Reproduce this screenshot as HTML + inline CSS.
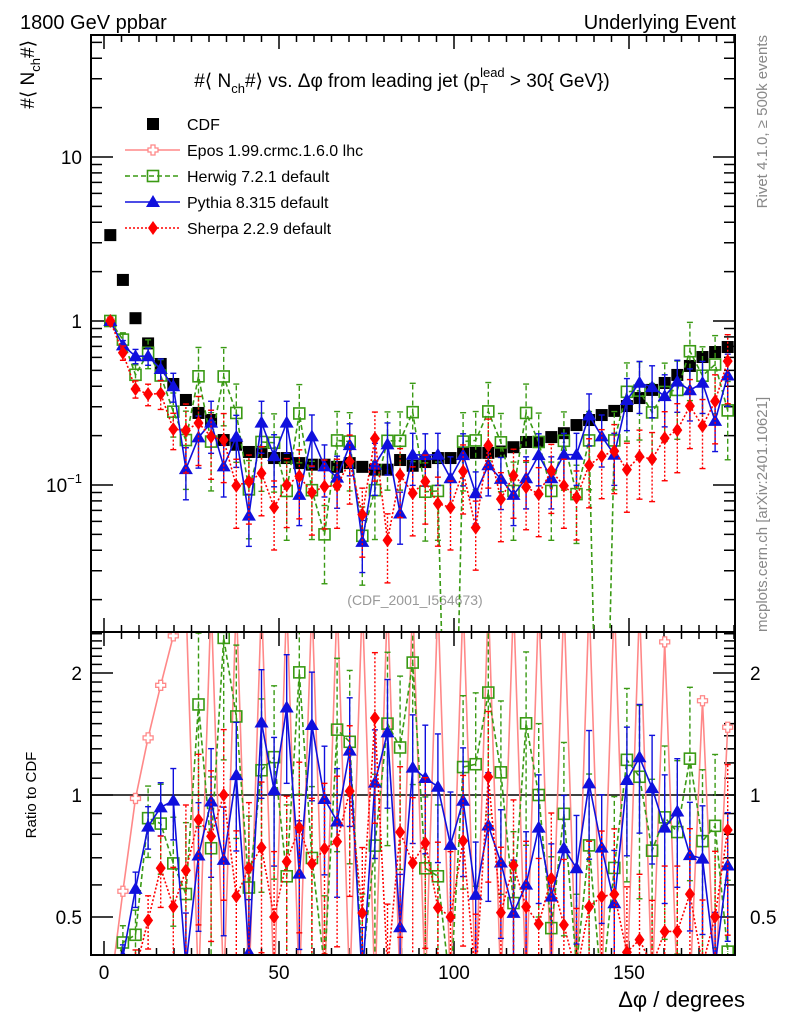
<!DOCTYPE html>
<html><head><meta charset="utf-8"><style>
html,body{margin:0;padding:0;background:#fff;overflow:hidden;width:786px;height:1024px;}
svg{display:block;font-family:"Liberation Sans",sans-serif;}
</style></head><body>
<svg id="chart" width="786" height="1024" viewBox="0 0 786 1024" xmlns="http://www.w3.org/2000/svg">
<defs>
<clipPath id="cm"><rect x="91" y="35" width="644" height="597"/></clipPath>
<clipPath id="cr"><rect x="91" y="632" width="644" height="323"/></clipPath>
</defs>
<text x="20" y="29" font-size="20">1800 GeV ppbar</text>
<text x="736" y="29" font-size="20" text-anchor="end">Underlying Event</text>
<text x="402" y="87" font-size="19" text-anchor="middle">#⟨ N<tspan font-size="13" dy="6">ch</tspan><tspan dy="-6">#⟩ vs. Δφ from leading jet  (p</tspan><tspan font-size="13" dy="6">T</tspan><tspan font-size="13" dy="-16" dx="-8">lead</tspan><tspan dy="10"> &gt; 30{ GeV})</tspan></text>
<text transform="translate(34,40) rotate(-90)" font-size="19" text-anchor="end">#⟨ N<tspan font-size="13" dy="6">ch</tspan><tspan dy="-6">#⟩</tspan></text>
<text transform="translate(36,795) rotate(-90)" font-size="15" text-anchor="middle">Ratio to CDF</text>
<text transform="translate(767,35) rotate(-90)" font-size="15" fill="#888" text-anchor="end">Rivet 4.1.0, ≥ 500k events</text>
<text transform="translate(767,632) rotate(-90)" font-size="15" fill="#888" text-anchor="start">mcplots.cern.ch [arXiv:2401.10621]</text>
<text x="415" y="605" font-size="14" fill="#999" text-anchor="middle">(CDF_2001_I564673)</text>
<text x="745" y="1007" font-size="22" text-anchor="end">Δφ / degrees</text>
<g id="axes"></g>
<g id="marks"></g>
<g id="legend"></g>
<rect x="91" y="35" width="644" height="597" fill="none" stroke="#000" stroke-width="2"/>
<rect x="91" y="632" width="644" height="323" fill="none" stroke="#000" stroke-width="2"/>
</svg>
<script>
const binCenters = [1.8,5.4,9,12.6,16.2,19.8,23.4,27,30.6,34.2,37.8,41.4,45,48.6,52.2,55.8,59.4,63,66.6,70.2,73.8,77.4,81,84.6,88.2,91.8,95.4,99,102.6,106.2,109.8,113.4,117,120.6,124.2,127.8,131.4,135,138.6,142.2,145.8,149.4,153,156.6,160.2,163.8,167.4,171,174.6,178.2];
const cdfValues = [3.34,1.78,1.04,0.73,0.547,0.413,0.33,0.275,0.249,0.188,0.176,0.159,0.159,0.146,0.146,0.136,0.133,0.133,0.129,0.136,0.129,0.124,0.124,0.142,0.131,0.138,0.146,0.146,0.157,0.157,0.157,0.160,0.170,0.183,0.183,0.196,0.207,0.232,0.249,0.267,0.283,0.303,0.339,0.380,0.419,0.469,0.532,0.603,0.647,0.694];
const eposValues = [1.0,1.03,1.02,1.01,1.02,1.02,1.0,0,1.0,0,1.0,0,1.0,0,1.0,0,1.0,0,1.0,0,1.0,0,1.0,0,1.0,0,1.0,0,1.0,0,1.0,0,1.0,0,1.0,0,1.0,0,1.0,0,1.0,0,1.0,0,1.0,0,0,1.03,0,1.02];
const herwigValues = [1.0,0.77,0.47,0.64,0.465,0.28,0.188,0.46,0.184,0.459,0.275,0.094,0.183,0.181,0.092,0.273,0.093,0.05,0.187,0.184,0.049,0.093,0.186,0.186,0.278,0.091,0.092,0,0.184,0.187,0.281,0.182,0.092,0.275,0.183,0.092,0.186,0.088,0.187,0,0.187,0.37,0.376,0.277,0.369,0.38,0.654,0.464,0.543,0.285];
const pythiaValues = [1.0,0.71,0.61,0.61,0.51,0.40,0.125,0.195,0.24,0.13,0.197,0.065,0.24,0.15,0.24,0.087,0.198,0.13,0.111,0.175,0.045,0.133,0.177,0.067,0.153,0.152,0.153,0.11,0.152,0.089,0.132,0.109,0.087,0.11,0.152,0.11,0.153,0.153,0.266,0.198,0.153,0.33,0.42,0.395,0.348,0.427,0.378,0.42,0.246,0.465];
const sherpaValues = [1.0,0.64,0.385,0.358,0.361,0.219,0.215,0.239,0.197,0.188,0.099,0.105,0.118,0.073,0.10,0.113,0.09,0.098,0.099,0.139,0.066,0.192,0.046,0.115,0.089,0.105,0.077,0.073,0.121,0.055,0.174,0.082,0.114,0.097,0.088,0.122,0.099,0.084,0.132,0.15,0.161,0.124,0.149,0.144,0.193,0.216,0.303,0.229,0.324,0.569];
const herwigRelErr = [0.05,0.1,0.15,0.2,0.25,0.3,0.5];
const pythiaRelErr = [0.03,0.07,0.1,0.12,0.15,0.2,0.35];
const sherpaRelErr = [0.05,0.1,0.12,0.15,0.2,0.25,0.45];
const xTickLabels = [0,50,100,150];
const ratioTickLabels = [0.5,1,2];

const NS="http://www.w3.org/2000/svg";
const axesG=document.getElementById('axes'), marksG=document.getElementById('marks'), legG=document.getElementById('legend');
function mk(tag,attrs,parent){const e=document.createElementNS(NS,tag);for(const k in attrs)e.setAttribute(k,attrs[k]);parent.appendChild(e);return e;}
const X=d=>104+3.5*d;
const YM=v=>321-164*Math.log10(v);
const YR=r=>795-122*Math.log2(r);
const clampR=r=>r<=0?990:Math.max(600,Math.min(990,YR(r)));
const clampM=v=>v<=0?990:Math.max(20,Math.min(990,YM(v)));
const clampErrR=r=>Math.max(600,Math.min(990,YR(r)));
const clampErrM=v=>Math.max(20,Math.min(990,YM(v)));

for(let d=0;d<=180;d+=5){
  const major=d%50===0, len=major?14:7;
  mk('line',{x1:X(d),x2:X(d),y1:955,y2:955-len,stroke:'#000','stroke-width':1.5},axesG);
  mk('line',{x1:X(d),x2:X(d),y1:632,y2:632-len,stroke:'#000','stroke-width':1.5},axesG);
  mk('line',{x1:X(d),x2:X(d),y1:632,y2:632+len,stroke:'#000','stroke-width':1.5},axesG);
  mk('line',{x1:X(d),x2:X(d),y1:35,y2:35+len,stroke:'#000','stroke-width':1.5},axesG);
}
xTickLabels.forEach(d=>{
  const t=mk('text',{x:X(d),y:979,'font-size':19,'text-anchor':'middle'},axesG);
  
  
  t.textContent=d;
});
for(let e=-2;e<=1;e++){for(let m=1;m<=9;m++){const v=m*Math.pow(10,e);const y=YM(v);if(y<35||y>632)continue;const len=m===1?22:11;
  mk('line',{x1:91,x2:91+len,y1:y,y2:y,stroke:'#000','stroke-width':1.5},axesG);
  mk('line',{x1:735,x2:735-len,y1:y,y2:y,stroke:'#000','stroke-width':1.5},axesG);}}
[[10,'10'],[1,'1']].forEach(([v,s])=>{const t=mk('text',{x:82,y:YM(v)+7,'font-size':19,'text-anchor':'end'},axesG);
  
  
  t.textContent=s;});
{const t=mk('text',{x:82,y:YM(0.1)+7,'font-size':19,'text-anchor':'end'},axesG);
 
 
 t.innerHTML='10<tspan font-size="13" dy="-9">−1</tspan>';}
for(let k=4;k<=25;k++){const r=k/10;const y=YR(r);if(y<632||y>955)continue;const major=(k===5||k===10||k===20);const len=major?22:11;
  mk('line',{x1:91,x2:91+len,y1:y,y2:y,stroke:'#000','stroke-width':1.5},axesG);
  mk('line',{x1:735,x2:735-len,y1:y,y2:y,stroke:'#000','stroke-width':1.5},axesG);}
ratioTickLabels.forEach(r=>{
  const t=mk('text',{x:82,y:YR(r)+7,'font-size':19,'text-anchor':'end'},axesG);
  
  
  t.textContent=r;
  const t2=mk('text',{x:750,y:YR(r)+7,'font-size':19,'text-anchor':'start'},axesG);
  
  
  t2.textContent=r;
});
mk('line',{x1:91,x2:735,y1:YR(1),y2:YR(1),stroke:'#000','stroke-width':1.5},axesG);

function marker(type,x,y,color,parent){
  if(type==='sq') return mk('rect',{x:x-6,y:y-6,width:12,height:12,fill:'#000'},parent);
  if(type==='osq') return mk('rect',{x:x-5.5,y:y-5.5,width:11,height:11,fill:'none',stroke:color,'stroke-width':1.6},parent);
  if(type==='tri') return mk('polygon',{points:`${x},${y-7} ${x-7},${y+5} ${x+7},${y+5}`,fill:color},parent);
  if(type==='dia') return mk('polygon',{points:`${x},${y-7} ${x-5},${y} ${x},${y+7} ${x+5},${y}`,fill:color},parent);
  if(type==='cross') return mk('path',{d:`M${x-2},${y-5}h4v3h3v4h-3v3h-4v-3h-3v-4h3z`,fill:'#fff',stroke:color,'stroke-width':1.3},parent);
}
function series(name,vals,color,mtype,dash,relErr,mainFilter){
  const gm=mk('g',{'clip-path':'url(#cm)'},marksG);
  
  
  const gr=mk('g',{'clip-path':'url(#cr)'},marksG);
  
  
  const mainPts=[], ratioPts=[];
  vals.forEach((v,i)=>{
    const r=v/cdfValues[i];
    ratioPts.push([X(binCenters[i]),clampR(r)]);
    if(!mainFilter||mainFilter(v,r,i)) mainPts.push([X(binCenters[i]),clampM(v)]);
  });
  const st={stroke:color,'stroke-width':1.6,fill:'none'}; if(dash)st['stroke-dasharray']=dash;
  if(mainPts.length>1) mk('polyline',Object.assign({points:mainPts.map(p=>p.join(',')).join(' ')},st),gm);
  mk('polyline',Object.assign({points:ratioPts.map(p=>p.join(',')).join(' ')},st),gr);
  vals.forEach((v,i)=>{
    if(v<=0) return;
    const r=v/cdfValues[i], x=X(binCenters[i]);
    const ef=relErr?relErr[Math.min(i,relErr.length-1)]:0;
    const show=!mainFilter||mainFilter(v,r,i);
    if(ef>0){
      const eb={stroke:color,'stroke-width':1.4}; if(dash)eb['stroke-dasharray']=dash;
      const lo=Math.max(v*(1-ef),1e-4),hi=v*(1+ef);
      if(show){mk('line',Object.assign({x1:x,x2:x,y1:clampErrM(lo),y2:clampErrM(hi)},eb),gm);
        mk('line',{x1:x-3,x2:x+3,y1:clampErrM(hi),y2:clampErrM(hi),stroke:color,'stroke-width':1.4},gm);
        mk('line',{x1:x-3,x2:x+3,y1:clampErrM(lo),y2:clampErrM(lo),stroke:color,'stroke-width':1.4},gm);}
      const rl=Math.max(r*(1-ef),1e-4),rh=r*(1+ef);
      mk('line',Object.assign({x1:x,x2:x,y1:clampErrR(rl),y2:clampErrR(rh)},eb),gr);
      mk('line',{x1:x-3,x2:x+3,y1:clampErrR(rh),y2:clampErrR(rh),stroke:color,'stroke-width':1.4},gr);
      mk('line',{x1:x-3,x2:x+3,y1:clampErrR(rl),y2:clampErrR(rl),stroke:color,'stroke-width':1.4},gr);
    }
    if(show){const m=marker(mtype,x,clampM(v),color,gm);
      
      }
    const m2=marker(mtype,x,clampR(r),color,gr);
    
    
  });
}
{const g=mk('g',{'clip-path':'url(#cm)'},marksG);
 
 
 cdfValues.forEach((v,i)=>{const m=marker('sq',X(binCenters[i]),YM(v),'#000',g);
   
   });}
series('epos',eposValues,'#f88','cross',null,null,(v,r,i)=>i===0);
series('herwig',herwigValues,'#3a9a14','osq','5,3',herwigRelErr);
series('pythia',pythiaValues,'#1010dd','tri',null,pythiaRelErr);
series('sherpa',sherpaValues,'#ff0000','dia','2,2',sherpaRelErr);

const legendLabels=['CDF','Epos 1.99.crmc.1.6.0 lhc','Herwig 7.2.1 default','Pythia 8.315 default','Sherpa 2.2.9 default'];
const legendStyle=[['sq','#000',null],['cross','#f88',null],['osq','#3a9a14','5,3'],['tri','#1010dd',null],['dia','#ff0000','2,2']];
legendLabels.forEach((lab,i)=>{
  const y=124+26*i;
  const g=mk('g',{},legG);
  
  
  const [mt,c,d]=legendStyle[i];
  if(i>0){const a={x1:125,x2:180,y1:y,y2:y,stroke:c,'stroke-width':1.6}; if(d)a['stroke-dasharray']=d; mk('line',a,g);}
  marker(mt,153,y,c,g);
  const t=mk('text',{x:187,y:y+6,'font-size':16},g);
  t.textContent=lab;
});
</script>
</body></html>
